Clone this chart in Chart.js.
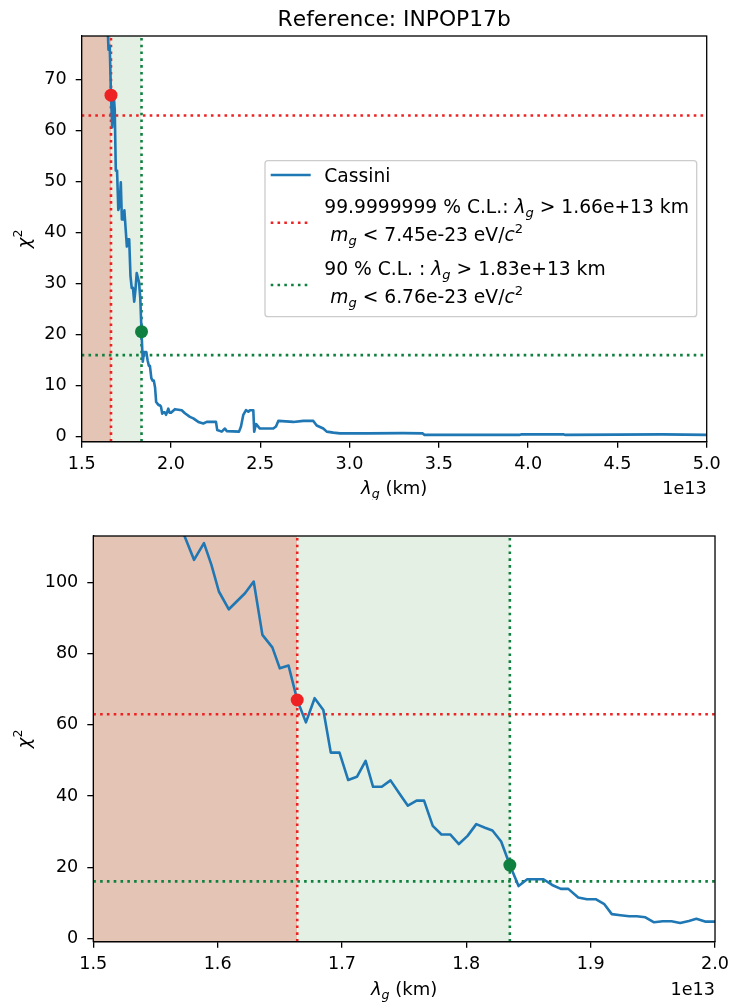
<!DOCTYPE html>
<html>
<head>
<meta charset="utf-8">
<script src="https://cdn.jsdelivr.net/npm/chart.js@4.4.1/dist/chart.umd.min.js"></script>
<style>
  html, body { margin: 0; padding: 0; background: #fff; }
  #wrap { position: relative; width: 735px; height: 1006px; }
  canvas { position: absolute; left: 0; }
</style>
</head>
<body>
<div id="wrap">
  <canvas id="fullChart" width="735" height="500" style="top:0"></canvas>
  <canvas id="zoomChart" width="735" height="506" style="top:500px"></canvas>
</div>
<script>
// lambda_g in units of 1e13 km, chi2
const lambdaG = [
  1.560, 1.567, 1.573, 1.581, 1.589, 1.595, 1.601, 1.609, 1.622, 1.629,
  1.636, 1.644, 1.650, 1.657, 1.664, 1.671, 1.678, 1.685, 1.691, 1.698,
  1.705, 1.712, 1.719, 1.725, 1.732, 1.739, 1.747, 1.753, 1.760, 1.766,
  1.773, 1.780, 1.787, 1.794, 1.801, 1.808, 1.815, 1.821, 1.828, 1.835,
  1.842, 1.849, 1.855, 1.862, 1.869, 1.876, 1.882, 1.890, 1.897, 1.904,
  1.911, 1.917, 1.924, 1.931, 1.937, 1.944, 1.951, 1.958, 1.965, 1.972,
  1.979, 1.985, 1.992, 2.000,
  2.022, 2.060, 2.078, 2.106, 2.125, 2.153, 2.181, 2.200, 2.252, 2.259,
  2.284, 2.302, 2.312, 2.381, 2.392, 2.405, 2.420, 2.433, 2.442, 2.461,
  2.466, 2.476, 2.498, 2.573, 2.588, 2.601, 2.685, 2.741, 2.797, 2.816,
  2.853, 2.872, 2.909, 2.946, 3.100, 3.300, 3.410, 3.420, 3.700, 3.950,
  3.960, 4.200, 4.210, 4.500, 4.750, 5.000
];
const chi2 = [
  125, 120, 113.4, 106.4, 111.1, 105.0, 97.5, 92.5, 97.0, 100.3,
  85.3, 81.8, 75.9, 76.7, 67.0, 60.7, 67.5, 64.2, 52.2, 52.2,
  44.5, 45.4, 49.9, 42.6, 42.6, 44.4, 40.3, 37.3, 38.7, 38.7,
  31.6, 29.2, 29.2, 26.5, 28.8, 32.1, 31.1, 30.3, 27.2, 20.6,
  14.7, 16.6, 16.6, 16.6, 15.0, 13.9, 13.9, 11.5, 11.0, 11.0,
  9.6, 6.8, 6.5, 6.2, 6.2, 5.9, 4.5, 4.8, 4.8, 4.3,
  4.9, 5.5, 4.7, 4.7,
  5.4, 5.2, 4.6, 3.9, 3.6, 2.9, 2.6, 2.9, 2.9, 1.3,
  1.0, 1.6, 1.1, 1.0, 2.0, 4.3, 5.2, 4.9, 5.2, 5.2,
  1.0, 2.5, 1.6, 1.6, 2.0, 3.1, 2.9, 3.1, 3.1, 2.2,
  1.6, 1.0, 0.8, 0.65, 0.65, 0.7, 0.65, 0.35, 0.35, 0.35,
  0.45, 0.45, 0.35, 0.4, 0.45, 0.35
];

// confidence levels: [99.9999999 %, 90 %]
const clLambda = [1.664, 1.835];
const clChi2 = [63, 16];
const clPointChi2 = [67.0, 20.6];

const fullXTicks = [1.5, 2.0, 2.5, 3.0, 3.5, 4.0, 4.5, 5.0];
const fullYTicks = [0, 10, 20, 30, 40, 50, 60, 70];
const zoomXTicks = [1.5, 1.6, 1.7, 1.8, 1.9, 2.0];
const zoomYTicks = [0, 20, 40, 60, 80, 100];

const titleText = 'Reference: INPOP17b';
const offsetText = '1e13';
const seriesLabel = 'Cassini';
const legendCL = [
  [
    [['99.9999999 % C.L.: ', ''], ['λ', 'i'], ['g', 'sub'], [' > 1.66e+13 km', '']],
    [[' ', ''], ['m', 'i'], ['g', 'sub'], [' < 7.45e-23 eV/', ''], ['c', 'i'], ['2', 'sup']]
  ],
  [
    [['90 % C.L. : ', ''], ['λ', 'i'], ['g', 'sub'], [' > 1.83e+13 km', '']],
    [[' ', ''], ['m', 'i'], ['g', 'sub'], [' < 6.76e-23 eV/', ''], ['c', 'i'], ['2', 'sup']]
  ]
];
const xTitleParts = [['λ', 'i'], ['g', 'sub'], [' (km)', '']];
const yTitleParts = [['χ', 'i'], ['2', 'sup']];

const FONT = '"DejaVu Sans"';
const FS = 17.6;      // ticks, axis labels
const LEG_FS = 18.7;  // legend
const TITLE_FS = 21.8;
const BLUE = '#1f77b4';
const RED = 'rgb(238,34,34)';
const GREEN = 'rgb(16,128,64)';
const RED_SHADE = 'rgb(228,196,181)';
const GREEN_SHADE = 'rgb(228,240,228)';
const DOT = [2.6, 4.2];

function partFont(style, size) {
    const small = style === 'sub' || style === 'sup';
    const it = style === 'i' || style === 'sub';
    return (it ? 'italic ' : '') + (small ? size * 0.7 : size) + 'px ' + FONT;
}

function partShift(style, size) {
    if (style === 'sub') return size * 0.22;
    if (style === 'sup') return -size * 0.42;
    return 0;
}

function drawRich(ctx, parts, x, y, size, align) {
    ctx.save();
    ctx.textAlign = 'left';
    ctx.textBaseline = 'alphabetic';
    ctx.fontKerning = 'none';
    let w = 0;
    parts.forEach(p => { ctx.font = partFont(p[1], size); w += ctx.measureText(p[0]).width; });
    let cx = align === 'center' ? x - w / 2 : (align === 'right' ? x - w : x);
    parts.forEach(p => {
        ctx.font = partFont(p[1], size);
        ctx.fillText(p[0], cx, y + partShift(p[1], size));
        cx += ctx.measureText(p[0]).width;
    });
    ctx.restore();
}

function handle(ctx, y, color, dash) {
    ctx.save();
    ctx.strokeStyle = color;
    ctx.lineWidth = 2.6;
    ctx.setLineDash(dash);
    ctx.beginPath();
    ctx.moveTo(270.7, y);
    ctx.lineTo(310.7, y);
    ctx.stroke();
    ctx.restore();
}

function drawLegend(ctx) {
    ctx.save();
    ctx.beginPath();
    ctx.roundRect(265, 160.7, 431.7, 156, 3);
    ctx.fillStyle = 'rgba(255,255,255,0.8)';
    ctx.fill();
    ctx.strokeStyle = '#cccccc';
    ctx.lineWidth = 1.3;
    ctx.stroke();
    ctx.fillStyle = '#000';
    handle(ctx, 175, BLUE, []);
    drawRich(ctx, [[seriesLabel, '']], 324.3, 182, LEG_FS, 'left');
    handle(ctx, 222.7, RED, DOT);
    drawRich(ctx, legendCL[0][0], 324.3, 213, LEG_FS, 'left');
    drawRich(ctx, legendCL[0][1], 324.3, 241, LEG_FS, 'left');
    handle(ctx, 285, GREEN, DOT);
    drawRich(ctx, legendCL[1][0], 324.3, 274.5, LEG_FS, 'left');
    drawRich(ctx, legendCL[1][1], 324.3, 302.5, LEG_FS, 'left');
    ctx.restore();
}

const decorPlugin = {
    id: 'decor',
    afterDraw(chart, args, opts) {
        const ctx = chart.ctx;
        const a = chart.chartArea;
        ctx.save();
        ctx.strokeStyle = '#000';
        ctx.lineWidth = 1.3;
        ctx.strokeRect(a.left, a.top, a.right - a.left, a.bottom - a.top);
        ctx.fillStyle = '#000';
        drawRich(ctx, xTitleParts, (a.left + a.right) / 2, opts.xTitleY, FS + 0.4, 'center');
        drawRich(ctx, [[offsetText, '']], a.right, opts.xTitleY, FS, 'right');
        if (opts.title) {
            drawRich(ctx, [[titleText, '']], (a.left + a.right) / 2, 26, TITLE_FS, 'center');
        }
        ctx.translate(30, (a.top + a.bottom) / 2);
        ctx.rotate(-Math.PI / 2);
        drawRich(ctx, yTitleParts, 0, 0, FS + 0.4, 'center');
        ctx.restore();
        if (opts.legend) drawLegend(ctx);
    }
};

function buildChart(id, cfg) {
    const ctx = document.getElementById(id).getContext('2d');
    const pts = lambdaG.map((x, i) => ({ x: x, y: chi2[i] }));
    const flat = { pointRadius: 0, tension: 0, fill: false };
    const datasets = [
        { label: seriesLabel, data: pts, borderColor: BLUE, borderWidth: 2.6,
          borderJoinStyle: 'round', order: 1, ...flat },
        { data: [{ x: clLambda[0], y: clPointChi2[0] }], showLine: false, pointRadius: 6.5,
          pointBackgroundColor: RED, pointBorderWidth: 0, order: 0 },
        { data: [{ x: clLambda[1], y: clPointChi2[1] }], showLine: false, pointRadius: 6.5,
          pointBackgroundColor: GREEN, pointBorderWidth: 0, order: 0 }
    ];
    [RED, GREEN].forEach((c, k) => {
        datasets.push({ data: [{ x: cfg.xMin, y: clChi2[k] }, { x: cfg.xMax, y: clChi2[k] }],
            borderColor: c, borderWidth: 2.6, borderDash: DOT, order: 2, ...flat });
        datasets.push({ data: [{ x: clLambda[k], y: cfg.yMin }, { x: clLambda[k], y: cfg.yMax }],
            borderColor: c, borderWidth: 2.6, borderDash: DOT, order: 2, ...flat });
    });
    datasets.push({ data: [{ x: cfg.xMin, y: cfg.yMax }, { x: clLambda[0], y: cfg.yMax }],
        backgroundColor: RED_SHADE, borderWidth: 0, pointRadius: 0, fill: 'start', order: 3 });
    datasets.push({ data: [{ x: clLambda[0], y: cfg.yMax }, { x: clLambda[1], y: cfg.yMax }],
        backgroundColor: GREEN_SHADE, borderWidth: 0, pointRadius: 0, fill: 'start', order: 3 });

    const tickFont = { family: 'DejaVu Sans', size: FS };
    const grid = { drawOnChartArea: false, drawTicks: true, tickLength: 6, color: '#000', lineWidth: 1.3 };
    const border = { display: true, color: '#000', width: 1.3 };

    return new Chart(ctx, {
        type: 'line',
        data: { datasets: datasets },
        options: {
            responsive: false,
            animation: false,
            devicePixelRatio: 1,
            layout: { padding: { left: 0, right: cfg.padRight, top: 36, bottom: 0 } },
            plugins: {
                legend: { display: false },
                tooltip: { enabled: false },
                decor: { xTitleY: cfg.xTitleY, title: cfg.title, legend: cfg.legend }
            },
            scales: {
                x: {
                    type: 'linear', min: cfg.xMin, max: cfg.xMax,
                    afterBuildTicks: s => { s.ticks = cfg.xTicks.map(v => ({ value: v })); },
                    afterFit: s => { s.height = cfg.xAxisH; },
                    ticks: { font: tickFont, color: '#000', padding: 6, maxRotation: 0,
                             autoSkip: false, callback: v => v.toFixed(1) },
                    grid: grid, border: border
                },
                y: {
                    type: 'linear', min: cfg.yMin, max: cfg.yMax,
                    afterBuildTicks: s => { s.ticks = cfg.yTicks.map(v => ({ value: v })); },
                    afterFit: s => { s.width = cfg.left; },
                    ticks: { font: tickFont, color: '#000', padding: 9, autoSkip: false },
                    grid: grid, border: border
                }
            }
        },
        plugins: [decorPlugin]
    });
}

buildChart('fullChart', {
    xMin: 1.5, xMax: 5.0, yMin: -0.98, yMax: 78.6,
    xTicks: fullXTicks, yTicks: fullYTicks,
    left: 81.7, padRight: 28.3, xAxisH: 58.3, xTitleY: 494,
    title: true, legend: true
});

buildChart('zoomChart', {
    xMin: 1.5, xMax: 2.0, yMin: -0.95, yMax: 113.1,
    xTicks: zoomXTicks, yTicks: zoomYTicks,
    left: 93.3, padRight: 16, xAxisH: 64.3, xTitleY: 495,
    title: false, legend: false
});
</script>
</body>
</html>
